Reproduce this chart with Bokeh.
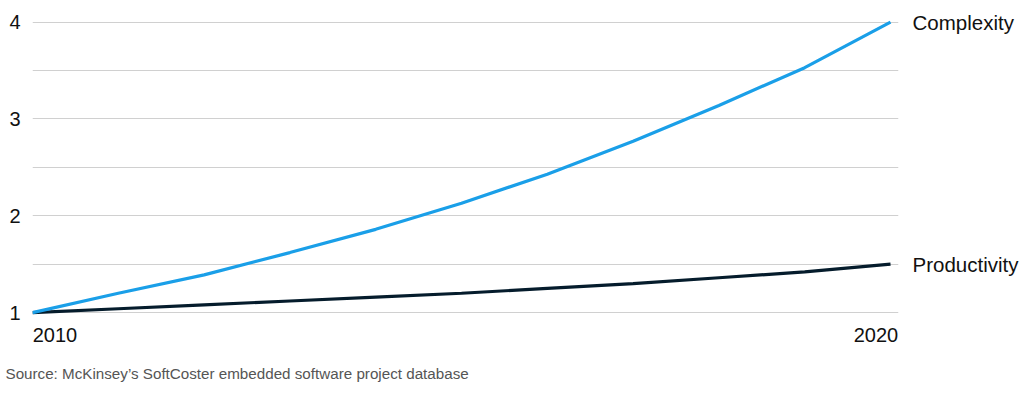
from bokeh.plotting import figure
from bokeh.models import Range1d, FixedTicker, LinearAxis, Title
from bokeh.embed import file_html
from bokeh.resources import INLINE

years = [2010, 2011, 2012, 2013, 2014, 2015, 2016, 2017, 2018, 2019, 2020]
complexity = [1.00, 1.20, 1.39, 1.62, 1.86, 2.13, 2.43, 2.77, 3.14, 3.53, 4.00]
productivity = [1.00, 1.04, 1.08, 1.12, 1.16, 1.20, 1.25, 1.30, 1.36, 1.42, 1.50]
series_names = ["Complexity", "Productivity"]
x_ticks = [2010, 2020]
x_tick_labels = ["2010", "2020"]
y_ticks = [1, 2, 3, 4]
grid_ticks = [1, 1.5, 2, 2.5, 3, 3.5, 4]
source_text = "Source: McKinsey\u2019s SoftCoster embedded software project database"

FONT = "Liberation Sans"
BLUE = "#1a9fe8"
NAVY = "#051c2c"
TXT = "#111111"

p = figure(width=1024, height=401, output_backend="svg", toolbar_location=None,
           x_range=Range1d(2010, 2020.093), y_range=Range1d(0.97, 4.1),
           x_axis_location=None,
           min_border_left=32, min_border_right=126, min_border_top=12, min_border_bottom=86)
p.outline_line_color = None
p.background_fill_color = "white"
p.border_fill_color = "white"

p.xgrid.visible = False
p.ygrid.ticker = FixedTicker(ticks=grid_ticks)
p.ygrid.grid_line_color = "#d0d0d0"
p.ygrid.grid_line_width = 1


def style_axis(ax, size="20px"):
    ax.axis_line_color = None
    ax.major_tick_line_color = None
    ax.minor_tick_line_color = None
    ax.major_tick_out = 0
    ax.major_tick_in = 0
    ax.major_label_text_font = FONT
    ax.major_label_text_font_size = size
    ax.major_label_text_color = TXT


p.yaxis.ticker = FixedTicker(ticks=y_ticks)
style_axis(p.yaxis[0])
p.yaxis.major_label_standoff = 12

# Right axis: series names at the end values
right = LinearAxis(ticker=FixedTicker(ticks=[complexity[-1], productivity[-1]]),
                   major_label_overrides={complexity[-1]: series_names[0],
                                          productivity[-1]: series_names[1]})
style_axis(right, "20.5px")
right.major_label_standoff = 14
p.add_layout(right, "right")

# Bottom axis for year labels, on a range shifted so labels sit inside the frame edges
p.extra_x_ranges = {"lbl": Range1d(2009.726, 2020.274)}
bottom = LinearAxis(x_range_name="lbl", ticker=FixedTicker(ticks=x_ticks),
                    major_label_overrides={x_ticks[0]: x_tick_labels[0],
                                           x_ticks[1]: x_tick_labels[1]})
style_axis(bottom, "20px")
bottom.major_label_standoff = 12
p.add_layout(bottom, "below")

p.line(years, productivity, line_color=NAVY, line_width=3.2)
p.line(years, complexity, line_color=BLUE, line_width=3.2)

src = Title(text=source_text, align="left", offset=-27, text_font=FONT,
            text_font_size="15.2px", text_font_style="normal", text_color="#555555",
            standoff=37)
p.add_layout(src, "below")

open("out.html", "w").write(file_html(p, INLINE))
